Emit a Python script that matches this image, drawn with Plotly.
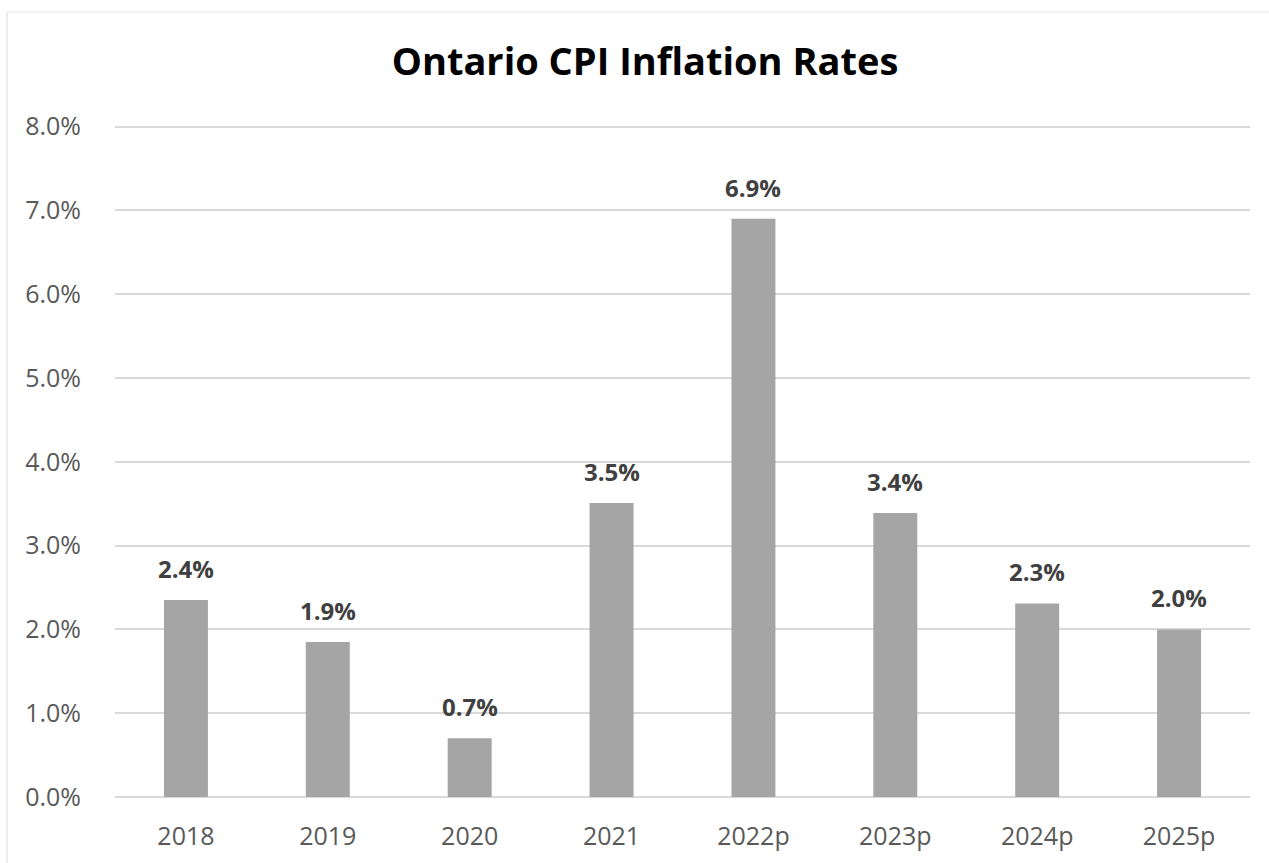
import plotly.graph_objects as go

categories = ["2018", "2019", "2020", "2021", "2022p", "2023p", "2024p", "2025p"]
values = [2.35, 1.85, 0.70, 3.51, 6.90, 3.39, 2.31, 2.00]
labels = ["2.4%", "1.9%", "0.7%", "3.5%", "6.9%", "3.4%", "2.3%", "2.0%"]
y_ticks = [0, 1, 2, 3, 4, 5, 6, 7, 8]
y_tick_text = ["0.0%", "1.0%", "2.0%", "3.0%", "4.0%", "5.0%", "6.0%", "7.0%", "8.0%"]

W, H = 1269, 863
L, R, T, B = 115, 19, 125, 66
FONT = "Open Sans, Noto Sans, sans-serif"

pos = list(range(len(categories)))

fig = go.Figure()
fig.add_trace(go.Bar(
    x=pos, y=values,
    marker=dict(color="#a5a5a5", line=dict(width=0)),
    width=0.31,
    customdata=categories,
    hovertemplate="%{customdata}: %{y}%<extra></extra>",
))

for p, v, t in zip(pos, values, labels):
    fig.add_annotation(
        x=p, y=v, text=t, showarrow=False, yanchor="bottom", yshift=13,
        font=dict(family=FONT, size=24, color="#404040", weight="bold"),
    )

pw = W - L - R
ph = H - T - B
def px_x(p):
    return (p - L) / pw
def px_y(p):
    return (H - B - p) / ph

fig.add_shape(type="line", xref="paper", yref="paper",
              x0=px_x(7), x1=px_x(7), y0=px_y(880), y1=px_y(12),
              line=dict(color="#d9d9d9", width=1), layer="below")
fig.add_shape(type="line", xref="paper", yref="paper",
              x0=px_x(7), x1=px_x(1290), y0=px_y(12), y1=px_y(12),
              line=dict(color="#e6e6e6", width=1), layer="below")

fig.update_layout(
    width=W, height=H,
    margin=dict(l=L, r=R, t=T, b=B, autoexpand=False),
    paper_bgcolor="white", plot_bgcolor="white",
    showlegend=False,
    title=dict(text="<b>Ontario CPI Inflation Rates</b>", x=645 / W, xref="container", xanchor="center",
               y=1 - 62 / H, yref="container", yanchor="middle",
               font=dict(family=FONT, size=38, color="#000000")),
    font=dict(family=FONT, color="#595959"),
    xaxis=dict(range=[-0.5, len(categories) - 0.5], tickvals=pos, ticktext=categories,
               showgrid=False, showline=False, ticks="outside", ticklen=17,
               tickcolor="rgba(0,0,0,0)", zeroline=False,
               tickfont=dict(size=25, color="#595959")),
    yaxis=dict(range=[0, 8.02], tickvals=y_ticks, ticktext=y_tick_text, showgrid=True,
               gridcolor="#d9d9d9", gridwidth=2, zeroline=True, zerolinecolor="#d9d9d9", zerolinewidth=2,
               showline=False, ticks="outside", ticklen=28, tickcolor="rgba(0,0,0,0)",
               tickfont=dict(size=25, color="#595959")),
)

fig.write_html("out.html", config={"displayModeBar": False},
               post_script="document.body.style.margin='0';")
